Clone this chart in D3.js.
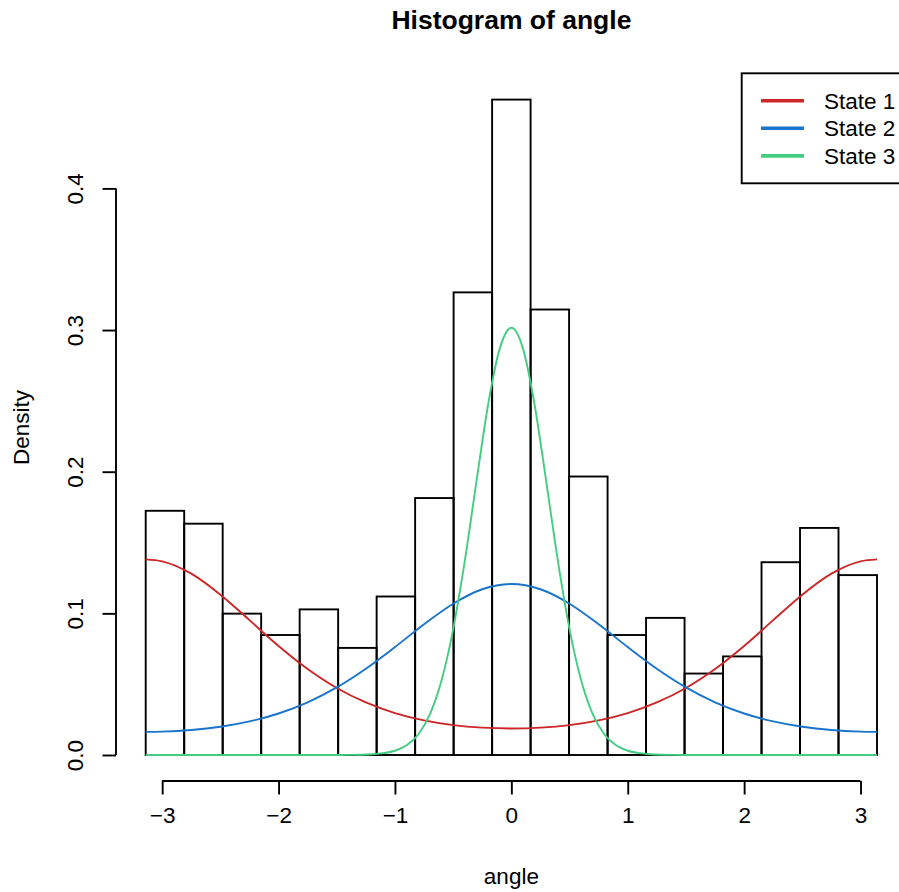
<!DOCTYPE html>
<meta charset="utf-8">
<style>
body { margin: 0; background: #fff; }
text { font-family: "Liberation Sans", Arial, Helvetica, sans-serif; fill: #000; }
</style>
<body id="chart"></body>

<script src="https://cdn.jsdelivr.net/npm/d3@7"></script>
<script>
//svg size
var width = 899,
    height = 892;

//histogram densities of angle, 19 bins from -pi to pi
var binDensity = [0.1724, 0.1633, 0.0998, 0.0847, 0.1028, 0.0756, 0.1119, 0.1814, 0.3266, 0.4627,
                  0.3145, 0.1966, 0.0847, 0.0968, 0.0575, 0.0696, 0.1361, 0.1603, 0.1270];

//points
var curveAngle = [-3.1416, -3, -2.75, -2.5, -2.25, -2, -1.75, -1.5, -1.25, -1, -0.75, -0.5, -0.25, 0,
                  0.25, 0.5, 0.75, 1, 1.25, 1.5, 1.75, 2, 2.25, 2.5, 2.75, 3, 3.1416];
var state1 = [0.1381, 0.1367, 0.1280, 0.1132, 0.0952, 0.0770, 0.0607, 0.0473, 0.0371, 0.0296, 0.0244, 0.0211, 0.0193, 0.0187,
              0.0193, 0.0211, 0.0244, 0.0296, 0.0371, 0.0473, 0.0607, 0.0770, 0.0952, 0.1132, 0.1280, 0.1367, 0.1381];
var state2 = [0.0163, 0.0165, 0.0176, 0.0199, 0.0237, 0.0293, 0.0372, 0.0477, 0.0609, 0.0762, 0.0923, 0.1068, 0.1170, 0.1207,
              0.1170, 0.1068, 0.0923, 0.0762, 0.0609, 0.0477, 0.0372, 0.0293, 0.0237, 0.0199, 0.0176, 0.0165, 0.0163];

var greenAngle = [-3.1416, -2, -1.6, -1.4, -1.3, -1.2, -1.1, -1, -0.9, -0.8, -0.7, -0.6, -0.5, -0.4, -0.3, -0.2, -0.1, 0,
                  0.1, 0.2, 0.3, 0.4, 0.5, 0.6, 0.7, 0.8, 0.9, 1, 1.1, 1.2, 1.3, 1.4, 1.6, 2, 3.1416];
var state3 = [0, 0, 0, 0.0001, 0.0002, 0.0005, 0.0013, 0.0030, 0.0069, 0.0145, 0.0287, 0.0526, 0.0887, 0.1370, 0.1930, 0.2471, 0.2869, 0.3016,
              0.2869, 0.2471, 0.1930, 0.1370, 0.0887, 0.0526, 0.0287, 0.0145, 0.0069, 0.0030, 0.0013, 0.0005, 0.0002, 0.0001, 0, 0, 0];

var xTicks = [-3, -2, -1, 0, 1, 2, 3];
var yTicks = [0, 0.1, 0.2, 0.3, 0.4];

var stateNames = ["State 1", "State 2", "State 3"];
var stateColors = ["#CD2626", "#1874CD", "#43CD80"];

//scales
var x = d3.scaleLinear()
    .domain([-Math.PI, Math.PI])
    .range([145.7, 877]);
var y = d3.scaleLinear()
    .domain([0, 0.4])
    .range([755, 188.4]);

var nBins = binDensity.length;
var binW = 2 * Math.PI / nBins;

var svg = d3.select("#chart").append("svg")
    .attr("width", width)
    .attr("height", height);

//bars
svg.append("g")
    .selectAll("rect")
    .data(binDensity)
    .enter().append("rect")
    .attr("x", function (d, i) { return x(-Math.PI + i * binW); })
    .attr("y", function (d) { return y(d); })
    .attr("width", function (d, i) { return x(-Math.PI + (i + 1) * binW) - x(-Math.PI + i * binW); })
    .attr("height", function (d) { return y(0) - y(d); })
    .attr("fill", "none")
    .attr("stroke", "#000")
    .attr("stroke-width", 1.9);

//state curves
var line = d3.line()
    .x(function (d) { return x(d[0]); })
    .y(function (d) { return y(d[1]); })
    .curve(d3.curveMonotoneX);

var series = [
    d3.zip(curveAngle, state1),
    d3.zip(curveAngle, state2),
    d3.zip(greenAngle, state3)
];

svg.append("g")
    .selectAll("path")
    .data(series)
    .enter().append("path")
    .attr("d", line)
    .attr("fill", "none")
    .attr("stroke", function (d, i) { return stateColors[i]; })
    .attr("stroke-width", 1.9);

//x axis
var xAxis = svg.append("g")
    .attr("transform", "translate(0,781)")
    .call(d3.axisBottom(x).tickValues(xTicks).tickSize(13.5).tickPadding(13).tickFormat(d3.format("d")));
xAxis.select(".domain")
    .attr("d", "M" + x(-3) + ",0H" + x(3));
xAxis.selectAll("path, line").attr("stroke", "#000").attr("stroke-width", 1.9);
xAxis.selectAll("text")
    .attr("font-size", 22.5)
    .attr("font-family", "Liberation Sans, Arial, sans-serif")
    .attr("fill", "#000");

//y axis
var yAxis = svg.append("g")
    .attr("transform", "translate(116,0)")
    .call(d3.axisLeft(y).tickValues(yTicks).tickSize(13.5).tickFormat(d3.format(".1f")));
yAxis.select(".domain")
    .attr("d", "M0," + y(0) + "V" + y(0.4));
yAxis.selectAll("path, line").attr("stroke", "#000").attr("stroke-width", 1.9);
yAxis.selectAll("text")
    .attr("x", null)
    .attr("y", null)
    .attr("dy", null)
    .attr("transform", "translate(-33,0) rotate(-90)")
    .attr("text-anchor", "middle")
    .attr("font-size", 22.5)
    .attr("font-family", "Liberation Sans, Arial, sans-serif")
    .attr("fill", "#000");

//titles
svg.append("text")
    .attr("x", 511.4)
    .attr("y", 29)
    .attr("text-anchor", "middle")
    .attr("font-size", 26.5)
    .attr("font-weight", "bold")
    .text("Histogram of angle");

svg.append("text")
    .attr("x", 511.4)
    .attr("y", 884)
    .attr("text-anchor", "middle")
    .attr("font-size", 22.5)
    .text("angle");

svg.append("text")
    .attr("transform", "translate(28.5,427.5) rotate(-90)")
    .attr("text-anchor", "middle")
    .attr("font-size", 22.5)
    .text("Density");

//legend
var legend = svg.append("g");
legend.append("rect")
    .attr("x", 741.7)
    .attr("y", 73.3)
    .attr("width", 165)
    .attr("height", 110)
    .attr("fill", "#fff")
    .attr("stroke", "#000")
    .attr("stroke-width", 1.9);

var item = legend.selectAll(".item")
    .data(stateNames)
    .enter().append("g")
    .attr("class", "item")
    .attr("transform", function (d, i) { return "translate(0," + (100.7 + i * 27.6) + ")"; });
item.append("line")
    .attr("x1", 761)
    .attr("x2", 804)
    .attr("stroke", function (d, i) { return stateColors[i]; })
    .attr("stroke-width", 3.6);
item.append("text")
    .attr("x", 824)
    .attr("dy", "0.35em")
    .attr("font-size", 22.5)
    .text(function (d) { return d; });
</script>
